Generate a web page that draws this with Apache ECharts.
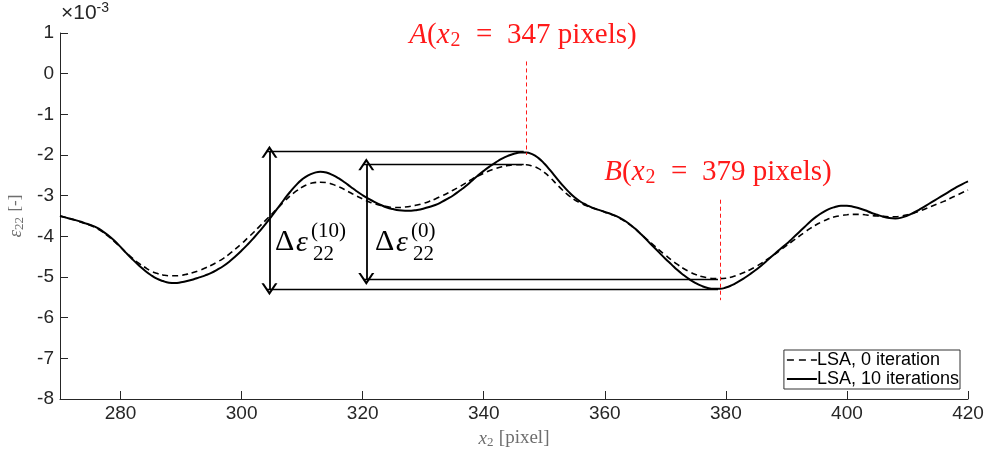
<!DOCTYPE html>
<html>
<head>
<meta charset="utf-8">
<script src="https://cdn.jsdelivr.net/npm/echarts@6/dist/echarts.min.js"></script>
<style>html,body{margin:0;padding:0;background:#fff}#c{width:988px;height:451px}</style>
</head>
<body>
<div id="c"></div>
<script>
// x2 positions (pixel), shared by both curves
const x2 = [270,271,272,273,274,275,276,277,278,279,280,281,282,283,284,285,286,287,288,289,
  290,291,292,293,294,295,296,297,298,299,300,301,302,303,304,305,306,307,308,309,
  310,311,312,313,314,315,316,317,318,319,320,321,322,323,324,325,326,327,328,329,
  330,331,332,333,334,335,336,337,338,339,340,341,342,343,344,345,346,347,348,349,
  350,351,352,353,354,355,356,357,358,359,360,361,362,363,364,365,366,367,368,369,
  370,371,372,373,374,375,376,377,378,379,380,381,382,383,384,385,386,387,388,389,
  390,391,392,393,394,395,396,397,398,399,400,401,402,403,404,405,406,407,408,409,
  410,411,412,413,414,415,416,417,418,419,420];
// epsilon_22 in units of 1e-3, LSA 10 iterations (solid)
const eps10 = [-3.50,-3.54,-3.58,-3.62,-3.67,-3.72,-3.78,-3.87,-3.98,-4.11,-4.26,-4.42,-4.57,-4.71,-4.84,-4.95,-5.04,-5.10,-5.14,-5.15,
  -5.13,-5.10,-5.06,-5.01,-4.96,-4.90,-4.82,-4.73,-4.62,-4.49,-4.35,-4.20,-4.04,-3.87,-3.69,-3.50,-3.30,-3.10,-2.91,-2.74,
  -2.60,-2.50,-2.44,-2.41,-2.43,-2.49,-2.57,-2.67,-2.78,-2.89,-2.99,-3.08,-3.16,-3.23,-3.29,-3.33,-3.36,-3.37,-3.37,-3.35,
  -3.32,-3.28,-3.23,-3.16,-3.08,-2.99,-2.88,-2.77,-2.64,-2.51,-2.39,-2.28,-2.18,-2.09,-2.02,-1.97,-1.94,-1.94,-1.98,-2.07,
  -2.21,-2.38,-2.56,-2.74,-2.90,-3.04,-3.15,-3.23,-3.30,-3.35,-3.40,-3.45,-3.51,-3.59,-3.69,-3.81,-3.95,-4.10,-4.25,-4.40,
  -4.55,-4.69,-4.83,-4.95,-5.06,-5.15,-5.22,-5.27,-5.29,-5.29,-5.26,-5.20,-5.12,-5.03,-4.93,-4.82,-4.70,-4.57,-4.44,-4.31,
  -4.19,-4.05,-3.91,-3.77,-3.63,-3.51,-3.41,-3.33,-3.28,-3.25,-3.25,-3.27,-3.31,-3.36,-3.42,-3.47,-3.52,-3.55,-3.56,-3.54,
  -3.49,-3.42,-3.34,-3.25,-3.16,-3.07,-2.98,-2.89,-2.80,-2.72,-2.65];
// epsilon_22 in units of 1e-3, LSA 0 iteration (dashed)
const eps0 = [-3.50,-3.54,-3.58,-3.63,-3.68,-3.73,-3.80,-3.89,-4.00,-4.13,-4.27,-4.41,-4.54,-4.66,-4.76,-4.85,-4.91,-4.95,-4.97,-4.97,
  -4.96,-4.93,-4.89,-4.84,-4.78,-4.71,-4.63,-4.54,-4.43,-4.31,-4.18,-4.04,-3.90,-3.75,-3.60,-3.45,-3.30,-3.15,-3.01,-2.89,
  -2.79,-2.72,-2.68,-2.67,-2.68,-2.72,-2.78,-2.85,-2.93,-3.01,-3.08,-3.15,-3.20,-3.24,-3.27,-3.29,-3.29,-3.28,-3.26,-3.23,
  -3.19,-3.14,-3.08,-3.01,-2.94,-2.86,-2.78,-2.69,-2.60,-2.52,-2.45,-2.38,-2.33,-2.29,-2.26,-2.24,-2.24,-2.24,-2.27,-2.33,
  -2.43,-2.56,-2.71,-2.86,-2.99,-3.10,-3.18,-3.25,-3.30,-3.35,-3.40,-3.46,-3.52,-3.60,-3.70,-3.82,-3.95,-4.08,-4.21,-4.34,
  -4.46,-4.58,-4.69,-4.79,-4.87,-4.94,-4.99,-5.02,-5.04,-5.04,-5.03,-5.00,-4.95,-4.89,-4.82,-4.74,-4.65,-4.55,-4.45,-4.34,
  -4.23,-4.12,-4.01,-3.90,-3.80,-3.71,-3.63,-3.57,-3.52,-3.49,-3.47,-3.46,-3.46,-3.47,-3.49,-3.50,-3.51,-3.52,-3.52,-3.50,
  -3.47,-3.43,-3.38,-3.32,-3.26,-3.20,-3.14,-3.07,-3.00,-2.93,-2.86];
const seriesNames = ['LSA, 0 iteration', 'LSA, 10 iterations'];
const xTicks = [280,300,320,340,360,380,400,420];

// annotation values (data coordinates)
const pointA = 347, pointB = 379;
const aTop = 0.3, bBottom = -5.57, bTop = -3.1;
const max10 = -1.92, min10 = -5.30, max0 = -2.23, min0 = -5.05;
const arrow10X = 304.6, arrow0X = 320.6;
const lineAEnd = 346.6, lineBEnd = 378.7;
const line10Start = 304.1, line0Start = 320.1;

const pair = (xs, ys) => xs.map((x, i) => [x, ys[i]]);
const chev = 'path://M0,9 L6,0 L12,9 L10.2,9 L6,2.8 L1.8,9 Z';

const chart = echarts.init(document.getElementById('c'), null, {renderer: 'canvas'});
const sans = 'Liberation Sans, Arial, sans-serif';
const axisTxt = {color: '#262626', fontSize: 19, fontFamily: sans};
const serif = 'Liberation Serif, serif';
const red = '#ff1a1a';

function mathLabel(letter, num, x, y) {
  return {type: 'text', x: x, y: y, style: {
    text: '{i|' + letter + '}{r|(}{i|x}{s|2}{r|  =  ' + num + ' pixels)}', align: 'center', verticalAlign: 'middle',
    rich: {
      i: {fontSize: 29, fontFamily: serif, fontStyle: 'italic', fill: red},
      r: {fontSize: 29, fontFamily: serif, fill: red},
      s: {fontSize: 20, fontFamily: serif, fill: red, verticalAlign: 'bottom', padding: [12, 1, 0, 1]}
    }}};
}
function deltaLabel(x, sup) {
  return [
    {type: 'text', x: x, y: 242, style: {text: 'Δ', font: '30px ' + serif, fill: '#000', verticalAlign: 'middle'}},
    {type: 'text', x: x + 21, y: 243, style: {text: 'ε', font: 'italic 30px ' + serif, fill: '#000', verticalAlign: 'middle'}},
    {type: 'text', x: x + 38, y: 254, style: {text: '22', font: '21px ' + serif, fill: '#000', verticalAlign: 'middle'}},
    {type: 'text', x: x + 36, y: 231, style: {text: sup, font: '21px ' + serif, fill: '#000', verticalAlign: 'middle'}}
  ];
}

chart.setOption({
  animation: false,
  backgroundColor: '#fff',
  grid: {left: 60, right: 20, top: 33, bottom: 52, containLabel: false, outerBoundsMode: 'none'},
  xAxis: {
    type: 'value', min: 270, max: 420, interval: 10,
    axisLine: {show: true, onZero: false, lineStyle: {color: '#262626', width: 1}},
    axisTick: {show: true, inside: true, length: 8, lineStyle: {color: '#262626'}, customValues: xTicks},
    axisLabel: Object.assign({margin: 5, customValues: xTicks}, axisTxt),
    splitLine: {show: false},
    name: '{x|x}{s|2} {r|[pixel]}', nameLocation: 'middle', nameGap: 29,
    nameTextStyle: {rich: {
      x: {fontFamily: serif, fontStyle: 'italic', fontSize: 19, color: '#6e6e6e'},
      s: {fontFamily: serif, fontSize: 13, color: '#6e6e6e', verticalAlign: 'bottom', padding: [8,2,0,0]},
      r: {fontFamily: serif, fontSize: 19, color: '#6e6e6e'}
    }}
  },
  yAxis: {
    type: 'value', min: -8, max: 1, interval: 1,
    axisLine: {show: true, onZero: false, lineStyle: {color: '#262626', width: 1}},
    axisTick: {show: true, inside: true, length: 8, lineStyle: {color: '#262626'}},
    axisLabel: Object.assign({margin: 6}, axisTxt),
    splitLine: {show: false},
    name: '{e|ε}{s|22} {r|[-]}', nameLocation: 'middle', nameGap: 32, nameRotate: 90,
    nameTextStyle: {rich: {
      e: {fontFamily: serif, fontStyle: 'italic', fontSize: 19, color: '#6e6e6e'},
      s: {fontFamily: serif, fontSize: 13, color: '#6e6e6e', verticalAlign: 'bottom', padding: [8,2,0,0]},
      r: {fontFamily: serif, fontSize: 17, color: '#6e6e6e'}
    }}
  },
  legend: {
    data: [
      {name: seriesNames[0], lineStyle: {type: [7, 5], width: 1.6, color: '#000'}},
      {name: seriesNames[1]}
    ],
    orient: 'vertical', right: 28, top: 350,
    backgroundColor: '#fff', borderColor: '#333', borderWidth: 1,
    padding: [1, 1, 1, 2], itemGap: 1, itemWidth: 30, itemHeight: 12,
    itemStyle: {opacity: 0},
    textStyle: {color: '#000', fontSize: 18, fontFamily: sans, padding: [0,0,0,-5], lineHeight: 18}
  },
  series: [
    {
      name: seriesNames[0], type: 'line', data: pair(x2, eps0), smooth: true,
      symbol: 'none', itemStyle: {color: '#000'}, lineStyle: {color: '#000', width: 1.6, type: [6, 4]}, z: 3
    },
    {
      name: seriesNames[1], type: 'line', data: pair(x2, eps10), smooth: true,
      symbol: 'none', itemStyle: {color: '#000'}, lineStyle: {color: '#000', width: 2, type: 'solid'}, z: 4,
      markLine: {
        silent: true, symbol: ['none', 'none'], label: {show: false},
        lineStyle: {color: '#000', width: 1.3, type: 'solid'},
        data: [
          [{coord: [line10Start, max10]}, {coord: [lineAEnd, max10]}],
          [{coord: [line0Start, max0]}, {coord: [lineAEnd, max0]}],
          [{coord: [line0Start, min0]}, {coord: [lineBEnd, min0]}],
          [{coord: [line10Start, min10]}, {coord: [lineBEnd, min10]}],
          [{coord: [pointA, aTop], lineStyle: {color: red, type: [4, 3], width: 1}}, {coord: [pointA, max10 - 0.08]}],
          [{coord: [pointB, bTop], lineStyle: {color: red, type: [4, 3], width: 1}}, {coord: [pointB, bBottom]}]
        ]
      }
    },
    {
      name: 'arrows', type: 'line', data: [], symbol: 'none', z: 5,
      markLine: {
        silent: true, symbol: [chev, chev], symbolSize: [16, 12], label: {show: false},
        lineStyle: {color: '#000', width: 1.8, type: 'solid'},
        data: [
          [{coord: [arrow10X, max10]}, {coord: [arrow10X, min10]}],
          [{coord: [arrow0X, max0]}, {coord: [arrow0X, min0]}]
        ]
      }
    }
  ],
  graphic: [
    {type: 'text', left: 61, top: 1, style: {
      text: '{m|×10}{p|-3}', rich: {
        m: {fontSize: 21, fontFamily: sans, fill: '#262626'},
        p: {fontSize: 14, fontFamily: sans, fill: '#262626', verticalAlign: 'top', padding: [0,0,10,0]}
      }}},
    mathLabel('A', '347', 523, 35),
    mathLabel('B', '379', 718, 172)
  ].concat(deltaLabel(275, '(10)'), deltaLabel(375, '(0)'))
});
</script>
</body>
</html>
